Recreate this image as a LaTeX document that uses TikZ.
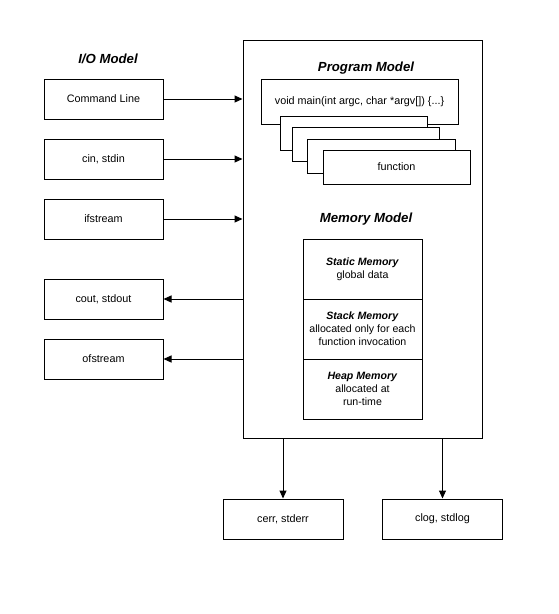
\documentclass[tikz,border=0pt]{standalone}
\usepackage{fontspec}
\setmainfont{Liberation Sans}
\usetikzlibrary{arrows.meta}
\begin{document}
\begin{tikzpicture}[x=1pt,y=-1pt,
  box/.style={draw,line width=1pt,fill=white,font=\fontsize{10.8}{12}\selectfont,inner sep=0pt,align=center},
  title/.style={font=\fontsize{13.2}{15}\selectfont\bfseries\itshape},
  arr/.style={line width=1pt,-{Triangle[length=8pt,width=7pt]}},
  memtxt/.style={box,minimum width=119pt,minimum height=60pt,font=\fontsize{10.6}{13}\selectfont}]
\useasboundingbox (0,0) rectangle (559,614);
% outer program box
\node[box,minimum width=239pt,minimum height=398pt] (prog) at (362.5,239) {};
% I/O model
\node[title] (iotitle) at (108,59) {I/O Model};
\node[box,minimum width=119pt,minimum height=40pt] (cmd) at (103.5,99) {Command Line};
\node[box,minimum width=119pt,minimum height=40pt] (cin) at (103.5,159) {cin, stdin};
\node[box,minimum width=119pt,minimum height=40pt] (ifs) at (103.5,219) {ifstream};
\node[box,minimum width=119pt,minimum height=40pt] (cout) at (103.5,299) {cout, stdout};
\node[box,minimum width=119pt,minimum height=40pt] (ofs) at (103.5,359) {ofstream};
\node[box,minimum width=120pt,minimum height=40pt] (cerr) at (283,519) {cerr, stderr};
\node[box,minimum width=120pt,minimum height=40pt] (clog) at (442.5,519) {clog, stdlog};
% program model
\node[title] (pmtitle) at (366,68) {Program Model};
\node[box,minimum width=197pt,minimum height=45pt] (mainf) at (359.5,101.5) {void main(int argc, char *argv[]) \{...\}};
\node[box,minimum width=147pt,minimum height=34pt] (f1) at (353.5,133) {};
\node[box,minimum width=147pt,minimum height=34pt] (f2) at (365.5,144.5) {};
\node[box,minimum width=148pt,minimum height=34pt] (f3) at (381,156) {};
\node[box,minimum width=147pt,minimum height=34pt] (func) at (396.5,167) {function};
% memory model
\node[title] (mmtitle) at (366,219) {Memory Model};
\node[memtxt] (static) at (362.5,269) {\textbf{\textit{Static Memory}}\\global data};
\node[memtxt] (stack) at (362.5,329) {\textbf{\textit{Stack Memory}}\\allocated only for each\\function invocation};
\node[memtxt] (heap) at (362.5,389) {\textbf{\textit{Heap Memory}}\\allocated at\\run-time};
% connectors
\draw[arr] (cmd.east) -- (cmd.east -| prog.west);
\draw[arr] (cin.east) -- (cin.east -| prog.west);
\draw[arr] (ifs.east) -- (ifs.east -| prog.west);
\draw[arr] (cout.east -| prog.west) -- (cout.east);
\draw[arr] (ofs.east -| prog.west) -- (ofs.east);
\draw[arr] (cerr.north |- prog.south) -- (cerr.north);
\draw[arr] (clog.north |- prog.south) -- (clog.north);
\end{tikzpicture}
\end{document}
